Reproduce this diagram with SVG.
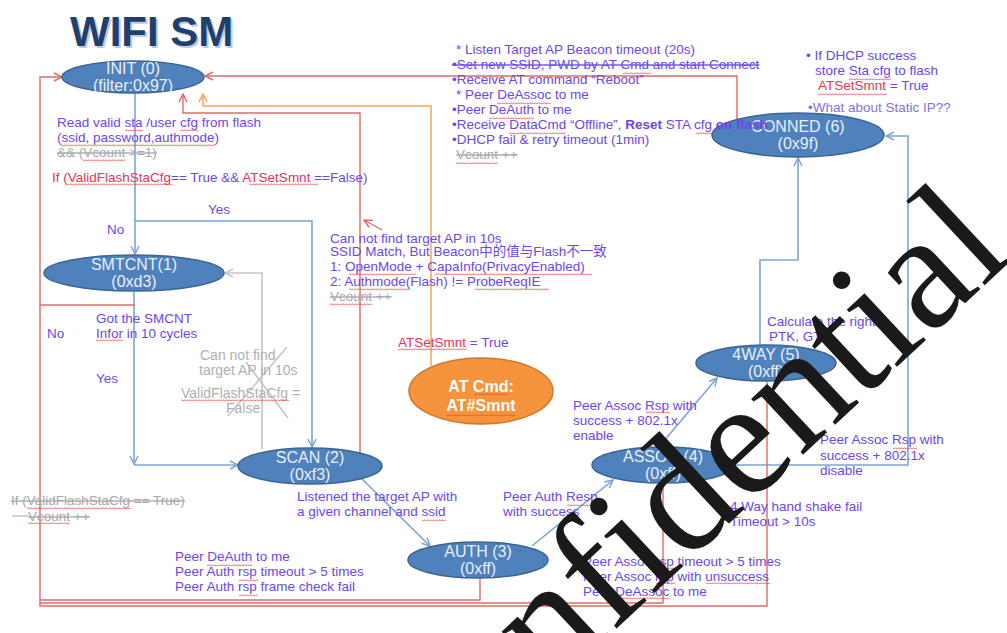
<svg xmlns="http://www.w3.org/2000/svg" width="1007" height="633" viewBox="0 0 1007 633">
<style>
text { font-family: "Liberation Sans", Arial, "Noto Sans CJK SC", sans-serif; }
.lb { font-size: 13.5px; fill: #6b47ea; }
.gy { fill: #a8a8a8; text-decoration: line-through; }
.gt { fill: #b0b0b0; font-size: 14px; }
.rd { fill: #e0365a; }
.sw { fill: url(#w); }
.node { fill: #4f81bd; stroke: #3a6595; stroke-width: 1.5; }
.nt { font-size: 16px; fill: #e9eff7; text-anchor: middle; }
.ot { font-size: 16px; fill: #ffffff; font-weight: bold; text-anchor: middle; }
.cb { fill: none; stroke: #7ea4d3; stroke-width: 1.6; }
.cr { fill: none; stroke: #e06a6a; stroke-width: 1.4; }
.co { fill: none; stroke: #f5a55a; stroke-width: 1.5; }
.cg { fill: none; stroke: #c6c6c6; stroke-width: 1.6; }
</style>
<defs>
<marker id="ab" viewBox="0 0 10 10" refX="9" refY="5" markerWidth="10" markerHeight="10" markerUnits="userSpaceOnUse" orient="auto"><path d="M1,1 L9,5 L1,9" fill="none" stroke="#7ea4d3" stroke-width="1.5"/></marker>
<marker id="ar" viewBox="0 0 10 10" refX="9" refY="5" markerWidth="10" markerHeight="10" markerUnits="userSpaceOnUse" orient="auto"><path d="M1,1 L9,5 L1,9" fill="none" stroke="#e06a6a" stroke-width="1.5"/></marker>
<marker id="ao" viewBox="0 0 10 10" refX="9" refY="5" markerWidth="10" markerHeight="10" markerUnits="userSpaceOnUse" orient="auto"><path d="M1,1 L9,5 L1,9" fill="none" stroke="#f5a55a" stroke-width="1.5"/></marker>
<marker id="ag" viewBox="0 0 10 10" refX="9" refY="5" markerWidth="10" markerHeight="10" markerUnits="userSpaceOnUse" orient="auto"><path d="M1,1 L9,5 L1,9" fill="none" stroke="#c6c6c6" stroke-width="1.5"/></marker>
<pattern id="w" x="0" y="0" width="3" height="3" patternUnits="userSpaceOnUse"><path d="M0,2.3 L1.5,0.7 L3,2.3" fill="none" stroke="#e8413c" stroke-width="0.8"/></pattern>
</defs>
<rect width="1007" height="633" fill="#ffffff"/>

<text x="72" y="48" font-size="42" font-weight="bold" fill="#c3cad6">WIFI SM</text>
<text x="70" y="46" font-size="42" font-weight="bold" fill="#1f3f6e">WIFI SM</text>

<g id="connectors">
<path class="cb" d="M135,93 V254" marker-end="url(#ab)"/>
<path class="cb" d="M135,221 H312 V447" marker-end="url(#ab)"/>
<path class="cb" d="M134,292 V464" marker-end="url(#ab)"/>
<path class="cb" d="M134,465 H238" marker-end="url(#ab)"/>
<path class="cb" d="M362,479 L430,546" marker-end="url(#ab)"/>
<path class="cb" d="M532,546 L613,480" marker-end="url(#ab)"/>
<path class="cb" d="M658,448 L717,378" marker-end="url(#ab)"/>
<path class="cb" d="M760,345 V260 H798 V158" marker-end="url(#ab)"/>
<path class="cb" d="M733,465 H908 V136 H886" marker-end="url(#ab)"/>
<path class="cg" d="M262,449 V273 H225" marker-end="url(#ag)"/>
<path class="cg" d="M287,347 L228,416 M246,362 L288,418"/>
<path class="cr" d="M737,119 V76 H205" marker-end="url(#ar)"/>
<path class="cr" d="M360,453 V113 H183 V94" marker-end="url(#ar)"/>
<path class="cr" d="M382,230 L364,220" marker-end="url(#ar)"/>
<path class="cr" d="M480,578 V600 H40"/>
<path class="cr" d="M663,483 V603 H40"/>
<path class="cr" d="M135,305 H40"/>
<path class="cr" d="M767,382 V606 H40 V77 H62" marker-end="url(#ar)"/>
<path class="co" d="M431,366 V106 H203 V94" marker-end="url(#ao)"/>
</g>

<g id="init"><ellipse class="node" cx="133" cy="77" rx="71" ry="16"/><text class="nt" x="133" y="74">INIT (0)</text><text class="nt" x="133" y="91">(filter:0x97)</text></g>
<g id="smtcnt"><ellipse class="node" cx="134" cy="273" rx="90" ry="18"/><text class="nt" x="134" y="270">SMTCNT(1)</text><text class="nt" x="134" y="287">(0xd3)</text></g>
<g id="scan"><ellipse class="node" cx="310" cy="466" rx="72" ry="18"/><text class="nt" x="310" y="463">SCAN (2)</text><text class="nt" x="310" y="480">(0xf3)</text></g>
<g id="auth"><ellipse class="node" cx="478" cy="560" rx="70" ry="18"/><text class="nt" x="478" y="557">AUTH (3)</text><text class="nt" x="478" y="574">(0xff)</text></g>
<g id="assoc"><ellipse class="node" cx="663" cy="465" rx="71" ry="18"/><text class="nt" x="663" y="462">ASSOC (4)</text><text class="nt" x="663" y="479">(0xff)</text></g>
<g id="fourway"><ellipse class="node" cx="766" cy="363" rx="70" ry="18"/><text class="nt" x="766" y="360">4WAY (5)</text><text class="nt" x="766" y="377">(0xff)</text></g>
<g id="conned"><ellipse class="node" cx="798" cy="135" rx="86" ry="22"/><text class="nt" x="798" y="132">CONNED (6)</text><text class="nt" x="798" y="149">(0x9f)</text></g>
<g id="atcmd"><ellipse cx="481" cy="391" rx="72" ry="33" fill="#f5943c" stroke="#d47426" stroke-width="1.5"/><text class="ot" x="481" y="392">AT Cmd:</text><text class="ot" x="481" y="411">AT#Smnt</text></g>

<g id="labels">
<text class="lb" x="57" y="127">Read valid sta /user cfg from flash</text>
<text class="lb" x="57" y="142">(ssid, password,authmode)</text>
<text class="lb gy" x="57" y="157">&amp;&amp; (Vcount &gt;=1)</text>
<text class="lb" x="52" y="182"><tspan class="rd">If (ValidFlashStaCfg</tspan>== True &amp;&amp;  <tspan class="rd">ATSetSmnt</tspan> ==False)</text>
<text class="lb" x="208" y="214">Yes</text>
<text class="lb" x="107" y="234">No</text>
<text class="lb" x="96" y="323">Got the SMCNT</text>
<text class="lb" x="96" y="338">Infor in 10 cycles</text>
<text class="lb" x="47" y="338">No</text>
<text class="lb" x="96" y="383">Yes</text>
<text class="gt" x="200" y="360">Can not find</text>
<text class="gt" x="199" y="375">target AP in  10s</text>
<text class="gt" x="181" y="398">ValidFlashStaCfg =</text>
<text class="gt" x="226" y="413">False</text>
<text class="lb gy" x="11" y="505">If (ValidFlashStaCfg == True)</text>
<text class="lb gy" x="28" y="521">Vcount ++</text>
<line x1="12" y1="516" x2="28" y2="516" stroke="#a8a8a8" stroke-width="1"/>
<text class="lb" x="297" y="501">Listened the target AP with</text>
<text class="lb" x="297" y="516">a given channel and ssid</text>
<text class="lb" x="175" y="561">Peer DeAuth to me</text>
<text class="lb" x="175" y="576">Peer Auth rsp timeout  &gt; 5 times</text>
<text class="lb" x="175" y="591">Peer Auth rsp frame check fail</text>
<text class="lb" x="503" y="501">Peer Auth Resp</text>
<text class="lb" x="503" y="516">with success</text>
<text class="lb" x="583" y="566">Peer Assoc rsp timeout &gt; 5 times</text>
<text class="lb" x="583" y="581">Peer Assoc rsp with unsuccess</text>
<text class="lb" x="583" y="596">Peer DeAssoc to me</text>
<text class="lb" x="730" y="511">4 Way  hand shake fail</text>
<text class="lb" x="730" y="526">Timeout &gt;  10s</text>
<text class="lb" x="820" y="444">Peer Assoc Rsp with</text>
<text class="lb" x="820" y="460">success + 802.1x</text>
<text class="lb" x="820" y="475">disable</text>
<text class="lb" x="573" y="410">Peer Assoc Rsp with</text>
<text class="lb" x="573" y="425">success +  802.1x</text>
<text class="lb" x="573" y="440">enable</text>
<text class="lb" x="767" y="326">Calculate the right</text>
<text class="lb" x="769" y="341">PTK, GTK</text>
<text class="lb" x="398" y="347"><tspan class="rd">ATSetSmnt</tspan> = True</text>
<text class="lb" x="330" y="243">Can not find  target AP in  10s</text>
<text class="lb" x="330" y="256">SSID Match, But  Beacon中的值与Flash不一致</text>
<text class="lb" x="330" y="271">1:  OpenMode +  CapaInfo(PrivacyEnabled)</text>
<text class="lb" x="330" y="286">2:  Authmode(Flash) !=  ProbeReqIE</text>
<text class="lb gy" x="330" y="301">Vcount ++</text>
<text class="lb" x="456" y="54">* Listen Target AP Beacon timeout (20s)</text>
<text class="lb" x="452" y="69" text-decoration="line-through">•Set new SSID, PWD by AT Cmd and start Connect</text>
<text class="lb" x="452" y="84">•Receive  AT command “Reboot”</text>
<text class="lb" x="456" y="99">* Peer DeAssoc to me</text>
<text class="lb" x="452" y="114">•Peer DeAuth to me</text>
<text class="lb" x="452" y="129">•Receive DataCmd “Offline”, <tspan font-weight="bold">Reset</tspan> STA cfg <tspan font-weight="bold">on flash</tspan></text>
<text class="lb" x="452" y="144">•DHCP fail  &amp; retry timeout (1min)</text>
<text class="lb gy" x="456" y="159">Vcount ++</text>
<text class="lb" x="806" y="60">•  If DHCP success</text>
<text class="lb" x="815" y="75">store Sta cfg to flash</text>
<text class="lb" x="818" y="90"><tspan class="rd">ATSetSmnt</tspan> = True</text>
<text class="lb" x="808" y="112" style="fill:#8a6fd6">•What about Static IP??</text>
</g>

<g id="squiggles">
<rect class="sw" x="125" y="129" width="18" height="3"/>
<rect class="sw" x="180" y="129" width="18" height="3"/>
<rect class="sw" x="61" y="144" width="154" height="3"/>
<rect class="sw" x="83" y="159" width="42" height="3"/>
<rect class="sw" x="68" y="183" width="104" height="3"/>
<rect class="sw" x="249" y="183" width="69" height="3"/>
<rect class="sw" x="96" y="339" width="27" height="3"/>
<rect class="sw" x="181" y="399" width="108" height="3"/>
<rect class="sw" x="27" y="507" width="104" height="3"/>
<rect class="sw" x="28" y="522" width="42" height="3"/>
<rect class="sw" x="422" y="519" width="24" height="3"/>
<rect class="sw" x="207" y="564" width="45" height="3"/>
<rect class="sw" x="239" y="579" width="19" height="3"/>
<rect class="sw" x="239" y="594" width="19" height="3"/>
<rect class="sw" x="567" y="504" width="31" height="3"/>
<rect class="sw" x="656" y="567" width="19" height="3"/>
<rect class="sw" x="656" y="582" width="19" height="3"/>
<rect class="sw" x="706" y="582" width="64" height="3"/>
<rect class="sw" x="615" y="597" width="54" height="3"/>
<rect class="sw" x="893" y="447" width="24" height="3"/>
<rect class="sw" x="646" y="411" width="24" height="3"/>
<rect class="sw" x="398" y="348" width="69" height="3"/>
<rect class="sw" x="349" y="273" width="67" height="3"/>
<rect class="sw" x="435" y="273" width="157" height="3"/>
<rect class="sw" x="349" y="288" width="61" height="3"/>
<rect class="sw" x="475" y="288" width="74" height="3"/>
<rect class="sw" x="330" y="303" width="42" height="3"/>
<rect class="sw" x="623" y="72" width="28" height="3"/>
<rect class="sw" x="497" y="102" width="54" height="3"/>
<rect class="sw" x="489" y="117" width="45" height="3"/>
<rect class="sw" x="509" y="132" width="57" height="3"/>
<rect class="sw" x="696" y="132" width="18" height="3"/>
<rect class="sw" x="456" y="162" width="42" height="3"/>
<rect class="sw" x="849" y="78" width="42" height="3"/>
<rect class="sw" x="818" y="93" width="69" height="3"/>
<rect class="sw" x="474" y="393" width="35" height="3"/>
<rect class="sw" x="446" y="414" width="70" height="3"/>
</g>

<text transform="translate(409,822) rotate(-43)" font-size="166" fill="#1a1a1a" style="font-family:'Liberation Serif', serif">Confidential</text>
</svg>
